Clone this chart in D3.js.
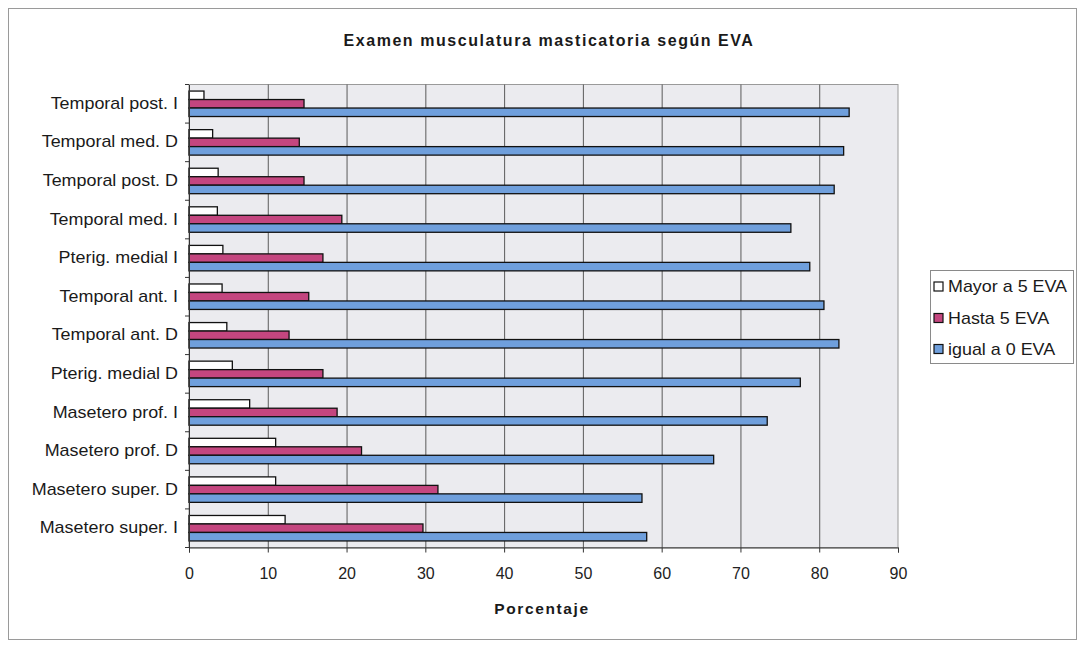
<!DOCTYPE html>
<html>
<head>
<meta charset="utf-8">
<script src="https://cdn.jsdelivr.net/npm/d3@7"></script>
<style>
  html, body { margin: 0; padding: 0; background: #ffffff; }
  svg { display: block; font-family: "Liberation Sans", Arial, sans-serif; }
</style>
</head>
<body>
<svg id="chart" width="1082" height="647"></svg>
<script>
// Muscles, listed top to bottom
const categories = [
  "Temporal post. I", "Temporal med. D", "Temporal post. D", "Temporal med. I",
  "Pterig. medial I", "Temporal ant. I", "Temporal ant. D", "Pterig. medial D",
  "Masetero prof. I", "Masetero prof. D", "Masetero super. D", "Masetero super. I"
];
const seriesNames = ["Mayor a 5 EVA", "Hasta 5 EVA", "igual a 0 EVA"];
const mayor5 = [1.9, 3.0, 3.7, 3.6, 4.3, 4.2, 4.8, 5.5, 7.7, 11.0, 11.0, 12.2];
const hasta5 = [14.6, 14.0, 14.6, 19.4, 17.0, 15.2, 12.7, 17.0, 18.8, 21.9, 31.6, 29.7];
const igual0 = [83.8, 83.1, 81.9, 76.4, 78.8, 80.6, 82.5, 77.6, 73.4, 66.6, 57.5, 58.1];
const xTicks = [0, 10, 20, 30, 40, 50, 60, 70, 80, 90];
const seriesColors = ["#ffffff", "#c4467f", "#6f9fdc"];

const seriesValues = [mayor5, hasta5, igual0];
const rows = categories.map((c, i) => ({
  cat: c,
  vals: seriesNames.map((s, k) => ({ key: s, value: seriesValues[k][i], color: seriesColors[k] }))
}));

// the typeface runs a little wide, so plain labels get a slight horizontal stretch
const WIDE = 1.12;

const svg = d3.select("#chart");

// outer frame
svg.append("rect")
  .attr("x", 8.5).attr("y", 8.5).attr("width", 1068).attr("height", 631)
  .attr("fill", "#ffffff").attr("stroke", "#9a9a9a").attr("stroke-width", 1);

const plot = { left: 189, right: 898, top: 84.5, bottom: 547.5 };

const x = d3.scaleLinear().domain([0, 90]).range([plot.left, plot.right]);
const y = d3.scaleBand().domain(categories).range([plot.top, plot.bottom])
  .paddingInner(0.34).paddingOuter(0.17);
const ySub = d3.scaleBand().domain(seriesNames).range([0, y.bandwidth()]);

// plot background
svg.append("rect")
  .attr("x", plot.left).attr("y", plot.top)
  .attr("width", plot.right - plot.left).attr("height", plot.bottom - plot.top)
  .attr("fill", "#ebebef").attr("stroke", "#9a9a9a").attr("stroke-width", 1);

// vertical gridlines
svg.append("g")
  .selectAll("line")
  .data(xTicks.slice(1, -1))
  .join("line")
  .attr("x1", d => x(d) + 0.5).attr("x2", d => x(d) + 0.5)
  .attr("y1", plot.top).attr("y2", plot.bottom)
  .attr("stroke", "#5a5a5a").attr("stroke-width", 1);

// bars
const groups = svg.append("g")
  .selectAll("g")
  .data(rows)
  .join("g")
  .attr("transform", d => `translate(0,${y(d.cat)})`);

groups.selectAll("rect")
  .data(d => d.vals)
  .join("rect")
  .attr("x", x(0))
  .attr("y", d => ySub(d.key))
  .attr("width", d => x(d.value) - x(0))
  .attr("height", ySub.bandwidth())
  .attr("fill", d => d.color)
  .attr("stroke", "#111111")
  .attr("stroke-width", 1.3);

// x axis
const xAxis = d3.axisBottom(x).tickValues(xTicks).tickSize(5).tickPadding(15).tickFormat(d3.format("d"));
const gx = svg.append("g")
  .attr("transform", `translate(0,${plot.bottom})`)
  .call(xAxis);
gx.select(".domain").attr("stroke", "#333333");
gx.selectAll(".tick line").attr("stroke", "#333333");
gx.selectAll(".tick text")
  .attr("font-size", 16).attr("fill", "#222222")
  .attr("font-family", "'Liberation Sans', Arial, sans-serif");

// y axis
const yPad = 11;
const yAxis = d3.axisLeft(y).tickSize(0).tickPadding(yPad);
const gy = svg.append("g")
  .attr("transform", `translate(${plot.left},0)`)
  .call(yAxis);
gy.select(".domain").attr("stroke", "#333333");
gy.selectAll(".tick text")
  .attr("font-size", 16).attr("fill", "#1a1a1a")
  .attr("font-family", "'Liberation Sans', Arial, sans-serif")
  .attr("x", -yPad / WIDE)
  .attr("transform", `scale(${WIDE},1)`);

// y tick marks on category boundaries
const bounds = d3.range(categories.length + 1).map(i => plot.top + i * y.step());
svg.append("g")
  .selectAll("line")
  .data(bounds)
  .join("line")
  .attr("x1", plot.left - 4).attr("x2", plot.left)
  .attr("y1", d => d).attr("y2", d => d)
  .attr("stroke", "#333333");

// title
svg.append("text")
  .attr("x", 549).attr("y", 46)
  .attr("text-anchor", "middle")
  .attr("font-size", 16).attr("font-weight", "bold").attr("fill", "#1a1a1a")
  .attr("letter-spacing", 1.55)
  .text("Examen musculatura masticatoria según EVA");

// x axis title
svg.append("text")
  .attr("x", 542).attr("y", 614)
  .attr("text-anchor", "middle")
  .attr("font-size", 15.5).attr("font-weight", "bold").attr("fill", "#1a1a1a")
  .attr("letter-spacing", 1.6)
  .text("Porcentaje");

// legend
const legend = svg.append("g").attr("transform", "translate(930,270)");
legend.append("rect")
  .attr("x", 0.5).attr("y", 0.5).attr("width", 143).attr("height", 93)
  .attr("fill", "#ffffff").attr("stroke", "#8a8a8a");
const legendRows = [16.5, 48, 79];
seriesNames.forEach((s, k) => {
  const g = legend.append("g").attr("transform", `translate(4,${legendRows[k]})`);
  g.append("rect")
    .attr("x", 0).attr("y", -4.5).attr("width", 9).attr("height", 9)
    .attr("fill", seriesColors[k]).attr("stroke", "#111111").attr("stroke-width", 1.2);
  g.append("text")
    .attr("x", 14 / WIDE).attr("y", 0).attr("dy", "0.36em")
    .attr("transform", `scale(${WIDE},1)`)
    .attr("font-size", 16).attr("fill", "#1a1a1a")
    .text(s);
});
</script>
</body>
</html>
